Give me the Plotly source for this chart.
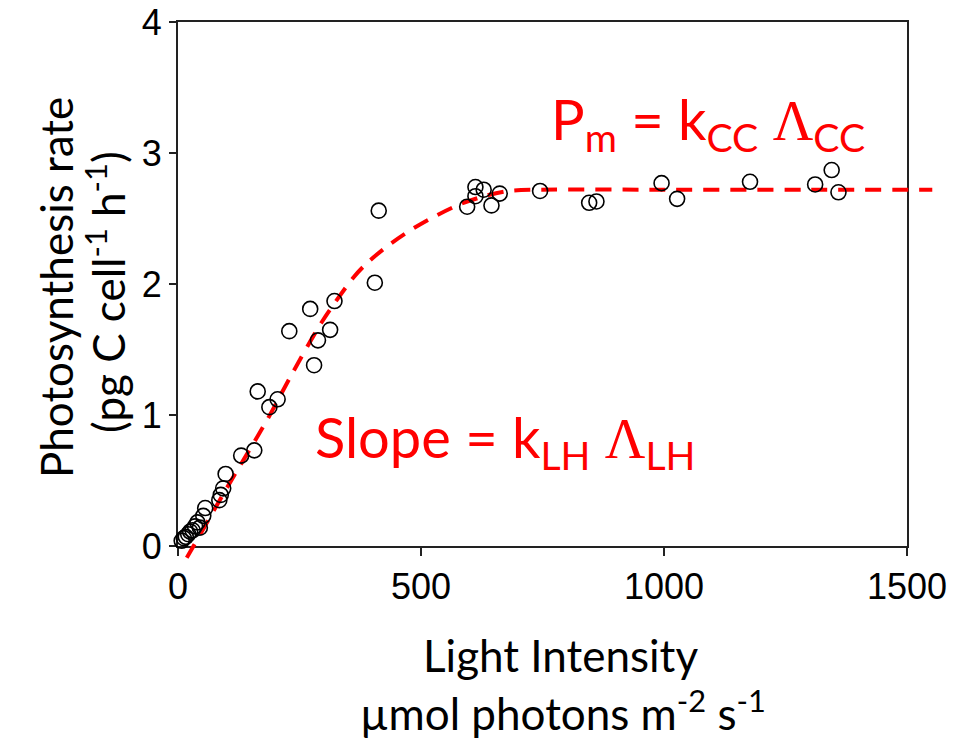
import plotly.graph_objects as go

# Measured photosynthesis rate vs. light intensity
light = [7.6, 12, 16, 21, 25, 30, 35, 40, 45, 52, 56, 85, 88, 93, 98,
         130, 157, 164, 188, 205, 229, 272, 280, 288, 313, 322, 405, 413,
         595, 612, 612, 629, 645, 662, 745, 846, 861, 995, 1027, 1177,
         1311, 1345, 1359]
rate = [0.04, 0.06, 0.07, 0.09, 0.11, 0.12, 0.15, 0.18, 0.14, 0.23, 0.29,
        0.35, 0.39, 0.44, 0.55, 0.69, 0.73, 1.18, 1.06, 1.12, 1.64, 1.81,
        1.38, 1.57, 1.65, 1.87, 2.01, 2.56, 2.59, 2.74, 2.67, 2.72, 2.60,
        2.69, 2.71, 2.62, 2.63, 2.77, 2.65, 2.78, 2.76, 2.87, 2.70]

# Fitted P-I curve
fit_light = [18, 32, 100, 183, 234, 296, 361, 389, 431, 478, 525, 581,
             630, 680, 746, 1000, 1300, 1552]
fit_rate = [-0.09, 0.0, 0.44, 0.96, 1.31, 1.71, 2.05, 2.16, 2.29, 2.41,
            2.51, 2.61, 2.67, 2.71, 2.72, 2.72, 2.72, 2.72]

x_ticks = [0, 500, 1000, 1500]
y_ticks = [0, 1, 2, 3, 4]
x_range = [0, 1500]
y_range = [0, 4]

W, H = 961, 741
# plot box in pixels
box_l, box_r, box_t, box_b = 178, 907, 22, 546
# wider, invisible frame sharing the same scale, so the fit line can run
# past the box edges
ext_l, ext_r, ext_t, ext_b = 168, 945, 22, 566


def dom_x(a, b):
    return [a / W, b / W]


def dom_y(top, bottom):
    return [(H - bottom) / H, (H - top) / H]


sx = (x_range[1] - x_range[0]) / (box_r - box_l)
sy = (y_range[1] - y_range[0]) / (box_b - box_t)
x2_range = [x_range[0] - (box_l - ext_l) * sx, x_range[1] + (ext_r - box_r) * sx]
y2_range = [y_range[0] - (ext_b - box_b) * sy, y_range[1] + (box_t - ext_t) * sy]

fig = go.Figure()

# empty trace keeps the framed axes alive
fig.add_trace(go.Scatter(x=[], y=[], mode="markers", showlegend=False,
                         xaxis="x", yaxis="y"))

fig.add_trace(go.Scatter(
    x=fit_light, y=fit_rate, mode="lines",
    line=dict(color="#ff0000", width=4, dash="16px,11px", shape="spline",
              smoothing=0.8),
    xaxis="x2", yaxis="y2", hoverinfo="skip", showlegend=False,
))

fig.add_trace(go.Scatter(
    x=light, y=rate, mode="markers",
    marker=dict(symbol="circle-open", size=15, color="black",
                line=dict(width=1.6, color="black")),
    xaxis="x2", yaxis="y2", cliponaxis=False, showlegend=False,
))

tick_font = dict(family="Liberation Sans, Arial, sans-serif", size=36,
                 color="black")
title_font = dict(family="Lato, Carlito, sans-serif", size=44, color="black")
red_font = dict(family="Lato, Carlito, sans-serif", size=56, color="#ff0000")
lam = "<span style='font-family:Liberation Serif'>\u039b</span>"

axis_common = dict(ticks="outside", tickwidth=2, tickcolor="#222",
                   showline=True, linecolor="#222", linewidth=2, mirror=True,
                   showgrid=False, zeroline=False, tickfont=tick_font,
                   automargin=False)

fig.update_layout(
    template="none",
    width=W, height=H,
    margin=dict(l=0, r=0, t=0, b=0, pad=0),
    paper_bgcolor="white", plot_bgcolor="rgba(0,0,0,0)",
    xaxis=dict(domain=dom_x(box_l, box_r), range=x_range, tickvals=x_ticks,
               ticklen=8, anchor="y", **axis_common),
    yaxis=dict(domain=dom_y(box_t, box_b), range=y_range, tickvals=y_ticks,
               ticklen=7, anchor="x", **axis_common),
    xaxis2=dict(domain=dom_x(ext_l, ext_r), range=x2_range, visible=False,
                anchor="y2", automargin=False),
    yaxis2=dict(domain=dom_y(ext_t, ext_b), range=y2_range, visible=False,
                anchor="x2", automargin=False),
    annotations=[
        dict(text="Slope = k<sub>LH</sub> " + lam + "<sub>LH</sub>",
             x=505 / W, y=(H - 440) / H, xref="paper", yref="paper",
             showarrow=False, font=red_font, xanchor="center",
             yanchor="middle"),
        dict(text="P<sub>m</sub> = k<sub>CC</sub> " + lam + "<sub>CC</sub>",
             x=708 / W, y=(H - 122) / H, xref="paper", yref="paper",
             showarrow=False, font=red_font, xanchor="center",
             yanchor="middle"),
        dict(text="Light Intensity", x=560 / W, y=(H - 655) / H,
             xref="paper", yref="paper", showarrow=False, font=title_font,
             xanchor="center", yanchor="middle"),
        dict(text="\u00b5mol photons m<sup>-2</sup> s<sup>-1</sup>",
             x=563 / W, y=(H - 710) / H, xref="paper", yref="paper",
             showarrow=False, font=title_font, xanchor="center",
             yanchor="middle"),
        dict(text="Photosynthesis rate", x=56 / W, y=(H - 288) / H,
             xref="paper", yref="paper", showarrow=False, font=title_font,
             textangle=-90, xanchor="center", yanchor="middle"),
        dict(text="(pg C cell<sup>-1</sup> h<sup>-1</sup>)", x=105 / W,
             y=(H - 292) / H, xref="paper", yref="paper", showarrow=False,
             font=title_font, textangle=-90, xanchor="center",
             yanchor="middle"),
    ],
)

fig.write_html("out.html")
